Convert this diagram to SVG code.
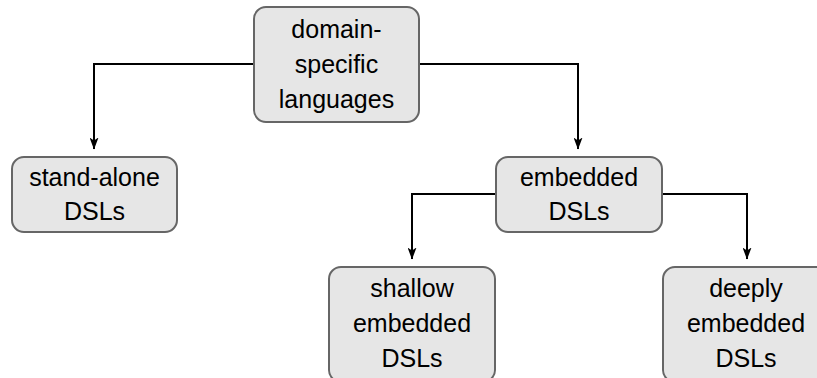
<svg xmlns="http://www.w3.org/2000/svg" width="817" height="378" viewBox="0 0 817 378">
  <style>
    .box { fill: #e6e6e6; stroke: #666666; stroke-width: 2; }
    .lbl { font-family: "Liberation Sans", Arial, sans-serif; font-size: 25px; fill: #000000; text-anchor: middle; }
    .edge { fill: none; stroke: #000000; stroke-width: 2; }
  </style>
  <defs>
    <marker id="arrow" viewBox="0 0 12 9" refX="11.5" refY="4.5" markerWidth="6" markerHeight="4.5" orient="auto" markerUnits="strokeWidth">
      <path d="M0,0 L12,4.5 L0,9 L3,4.5 Z" fill="#000000"/>
    </marker>
  </defs>

  <g id="connectors">
    <path class="edge" d="M254,64 H94 V149" marker-end="url(#arrow)"/>
    <path class="edge" d="M419,64 H578 V149" marker-end="url(#arrow)"/>
    <path class="edge" d="M496,194 H412 V259" marker-end="url(#arrow)"/>
    <path class="edge" d="M662,194 H747 V259" marker-end="url(#arrow)"/>
  </g>

  <g id="dsl">
    <rect class="box" x="254" y="7" width="165" height="115" rx="12"/>
    <text class="lbl" x="336.5" y="38">domain-</text>
    <text class="lbl" x="336.5" y="73">specific</text>
    <text class="lbl" x="336.5" y="108">languages</text>
  </g>

  <g id="standalone">
    <rect class="box" x="12" y="157" width="165" height="75" rx="12"/>
    <text class="lbl" x="94.5" y="186">stand-alone</text>
    <text class="lbl" x="94.5" y="220">DSLs</text>
  </g>

  <g id="embedded">
    <rect class="box" x="496" y="157" width="166" height="75" rx="12"/>
    <text class="lbl" x="579" y="186">embedded</text>
    <text class="lbl" x="579" y="220">DSLs</text>
  </g>

  <g id="shallow">
    <rect class="box" x="329" y="267" width="166" height="115" rx="12"/>
    <text class="lbl" x="412" y="297">shallow</text>
    <text class="lbl" x="412" y="332">embedded</text>
    <text class="lbl" x="412" y="367">DSLs</text>
  </g>

  <g id="deeply">
    <rect class="box" x="663" y="267" width="166" height="115" rx="12"/>
    <text class="lbl" x="746" y="297">deeply</text>
    <text class="lbl" x="746" y="332">embedded</text>
    <text class="lbl" x="746" y="367">DSLs</text>
  </g>
</svg>
